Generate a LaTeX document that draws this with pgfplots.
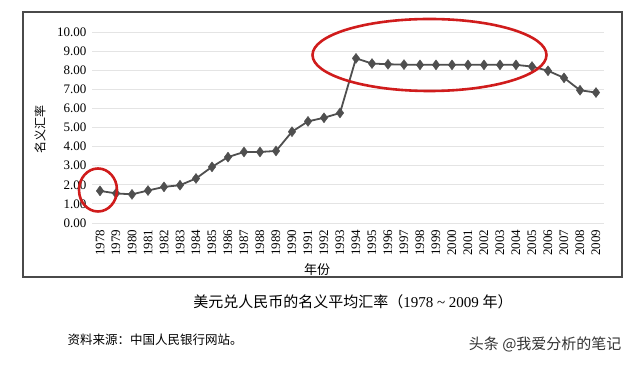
\documentclass[border=0pt]{standalone}
\usepackage{pgfplots}
\pgfplotsset{compat=1.18}
\usepackage{fontspec}
\setmainfont{Liberation Serif}
\newfontfamily\cjk{Noto Sans CJK SC}
\definecolor{lineg}{HTML}{4F4F4F}
\definecolor{gridg}{HTML}{E4E4E4}
\definecolor{frameg}{HTML}{4A4A4A}
\definecolor{ellred}{HTML}{D01C1C}
\begin{document}
\begin{tikzpicture}
\useasboundingbox (0pt,0pt) rectangle (640pt,366pt);
\draw[frameg, line width=1.3pt] (23pt,89pt) rectangle (622pt,354pt);
\begin{axis}[
  at={(92pt,143pt)}, anchor=south west,
  scale only axis, width=512pt, height=191pt,
  xmin=1977.5, xmax=2009.5, ymin=0, ymax=10,
  axis line style={draw=none},
  major tick length=0pt,
  xtick={1978,...,2009}, ytick={0,1,...,10},
  ymajorgrids, grid style={gridg, line width=0.8pt},
  /pgf/number format/assume math mode=true,
  yticklabel style={/pgf/number format/.cd, fixed, fixed zerofill, precision=2, /tikz/.cd, font=\fontsize{13}{15}\selectfont, xshift=-2pt},
  xticklabel style={/pgf/number format/1000 sep=, rotate=90, anchor=east, font=\fontsize{13}{15}\selectfont, xshift=-3pt},
  xlabel={\cjk 年份}, xlabel style={font=\fontsize{13}{15}\selectfont, yshift=-1pt, xshift=-31pt},
]
\addplot[lineg, line width=1.8pt, mark=diamond*, mark size=5pt, mark options={fill=lineg, draw=lineg, line width=0.4pt}] coordinates {
(1978,1.68) (1979,1.55) (1980,1.50) (1981,1.70) (1982,1.89) (1983,1.98)
(1984,2.33) (1985,2.94) (1986,3.45) (1987,3.72) (1988,3.72) (1989,3.77)
(1990,4.78) (1991,5.32) (1992,5.51) (1993,5.76) (1994,8.62) (1995,8.35)
(1996,8.31) (1997,8.29) (1998,8.28) (1999,8.28) (2000,8.28) (2001,8.28)
(2002,8.28) (2003,8.28) (2004,8.28) (2005,8.19) (2006,7.97) (2007,7.60)
(2008,6.95) (2009,6.83)
};
\end{axis}
\node[rotate=90, font=\fontsize{12}{14}\selectfont] at (40pt,236pt) {\cjk 名义汇率};
\draw[ellred, line width=2.6pt] (429.5pt,311pt) ellipse [x radius=117pt, y radius=36pt];
\draw[ellred, line width=2.6pt] (98pt,176pt) ellipse [x radius=19pt, y radius=21.5pt];
\node[font=\fontsize{15}{17}\selectfont] at (353pt,64pt) {\cjk 美元兑人民币的名义平均汇率（\rmfamily 1978 \textasciitilde{} 2009 \cjk 年）};
\node[anchor=west, font=\fontsize{12.5}{14}\selectfont] at (64pt,26pt) {\cjk 资料来源：中国人民银行网站。};
\node[anchor=east, font=\fontsize{15}{17}\selectfont, text=black!80] at (625pt,22pt) {\cjk 头条 @我爱分析的笔记};
\end{tikzpicture}
\end{document}
